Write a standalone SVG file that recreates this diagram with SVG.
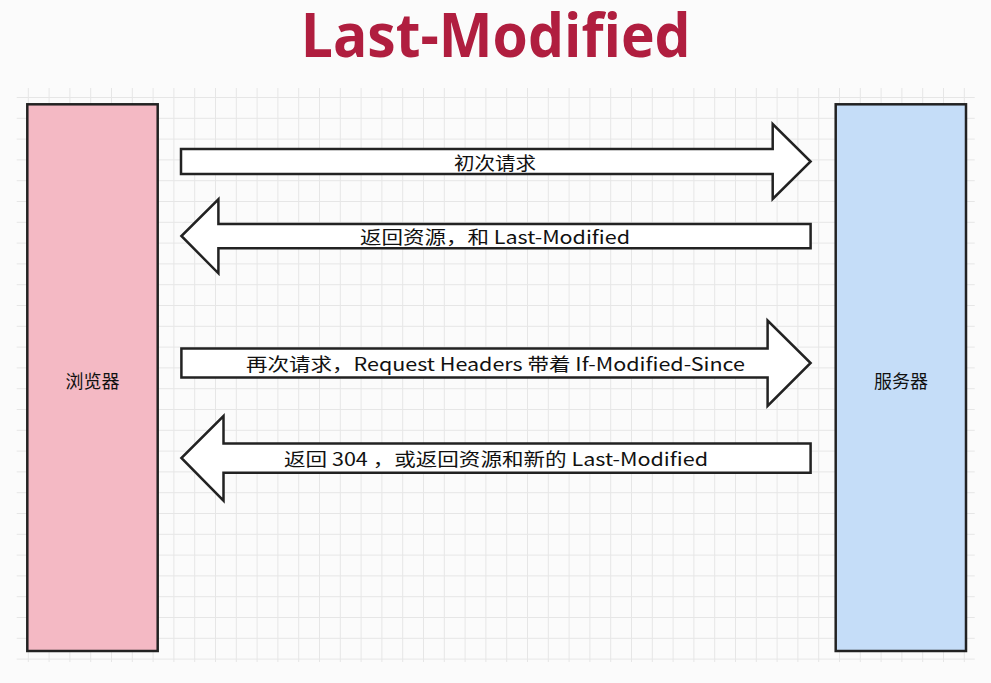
<svg xmlns="http://www.w3.org/2000/svg" width="991" height="683" viewBox="0 0 991 683">
  <style>
    .box { stroke: #222; stroke-width: 2.5; }
    .arrow { fill: #ffffff; stroke: #222; stroke-width: 2.5; stroke-linejoin: miter; }
    .lbl { font-family: "Noto Sans CJK SC", "Noto Sans", sans-serif; font-size: 18px; fill: #111; text-anchor: middle; dominant-baseline: central; }
    .title { font-family: "Open Sans", "Noto Sans", sans-serif; font-weight: 700; font-size: 60px; fill: #b01e3f; text-anchor: middle; }
  </style>
  <defs>
    <pattern id="grid" x="27.8" y="117.8" width="20.8" height="20.8" patternUnits="userSpaceOnUse">
      <rect x="0" y="0" width="1" height="20.8" fill="#e6e6e6"/>
      <rect x="0" y="0" width="20.8" height="1" fill="#e6e6e6"/>
    </pattern>
  </defs>
  <rect x="0" y="0" width="991" height="683" fill="#fbfbfb"/>
  <rect x="16.7" y="88" width="958" height="574" fill="url(#grid)"/>

  <text class="title" x="495.7" y="57" textLength="390" lengthAdjust="spacingAndGlyphs">Last-Modified</text>

  <g id="browser">
    <rect class="box" x="27.3" y="104.3" width="130.4" height="546.7" fill="#f4b9c4"/>
    <text class="lbl" x="92.5" y="380">浏览器</text>
  </g>
  <g id="server">
    <rect class="box" x="835.7" y="104.3" width="130.3" height="546.7" fill="#c5ddf8"/>
    <text class="lbl" x="901" y="380">服务器</text>
  </g>

  <g id="connectors">
    <g id="req1">
      <path class="arrow" d="M181,149 H772.7 V124 L810.6,161.5 L772.7,199 V174 H181 Z"/>
      <text class="lbl" x="495" y="161.5" textLength="82" lengthAdjust="spacingAndGlyphs">初次请求</text>
    </g>
    <g id="res1">
      <path class="arrow" d="M810.6,224 H218.4 V199.3 L181.4,236 L218.4,273.3 V248.3 H810.6 Z"/>
      <text class="lbl" x="495" y="236" textLength="270" lengthAdjust="spacingAndGlyphs">返回资源，和 Last-Modified</text>
    </g>
    <g id="req2">
      <path class="arrow" d="M181.4,348.5 H767.6 V320.5 L810.6,363 L767.6,406 V377.5 H181.4 Z"/>
      <text class="lbl" x="495.5" y="363" textLength="499" lengthAdjust="spacingAndGlyphs">再次请求，Request Headers 带着 If-Modified-Since</text>
    </g>
    <g id="res2">
      <path class="arrow" d="M810.6,443.5 H223.5 V416 L181.4,458 L223.5,500.7 V472.8 H810.6 Z"/>
      <text class="lbl" x="496" y="458" textLength="424" lengthAdjust="spacingAndGlyphs">返回 304 ，或返回资源和新的 Last-Modified</text>
    </g>
  </g>
</svg>
